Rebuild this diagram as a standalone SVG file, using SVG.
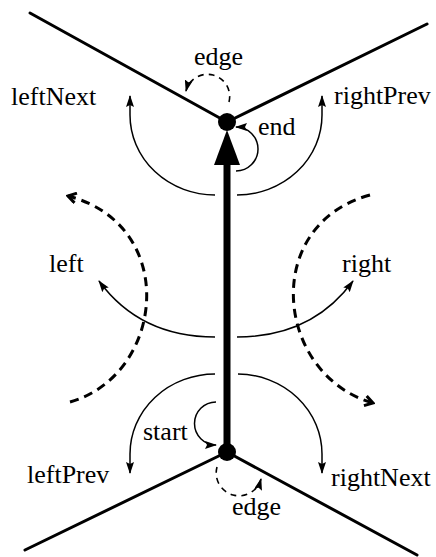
<svg xmlns="http://www.w3.org/2000/svg" width="436" height="557" viewBox="0 0 436 557">
<style>
.edge{stroke:#000;stroke-width:3;fill:none;stroke-linecap:round}
.thin{stroke:#000;stroke-width:1.5;fill:none}
.dash{stroke:#000;stroke-width:3;fill:none;stroke-dasharray:9 6}
.sdash{stroke:#000;stroke-width:1.6;fill:none;stroke-dasharray:6 5}
text{font-family:"Liberation Serif","Times New Roman",serif;font-size:26px;fill:#000}
</style>
<defs>
<marker id="ah" markerUnits="userSpaceOnUse" markerWidth="12" markerHeight="8" refX="11" refY="4" orient="auto"><path d="M0,0 L12,4 L0,8 L2,4 z" fill="#000"/></marker>
<marker id="ahd" markerUnits="userSpaceOnUse" markerWidth="12" markerHeight="12" refX="10" refY="6" orient="auto"><path d="M2,1 L10,6 L2,11" fill="none" stroke="#000" stroke-width="3"/></marker>
</defs>
<g id="connectors">
<line class="edge" x1="30" y1="13" x2="227" y2="122"/>
<line class="edge" x1="427" y1="24" x2="227" y2="122"/>
<line class="edge" x1="25" y1="550" x2="227" y2="452"/>
<line class="edge" x1="417" y1="555" x2="227" y2="452"/>
<line x1="227" y1="452" x2="227" y2="160" stroke="#000" stroke-width="7"/>
<polygon points="227,130 214,165 240,165" fill="#000"/>
<path class="thin" d="M215,195 A85,80 0 0 1 130,115 L130,96" marker-end="url(#ah)"/>
<path class="thin" d="M237,195 A85,80 0 0 0 322,115 L322,96" marker-end="url(#ah)"/>
<path class="thin" d="M215,374 A85,80 0 0 0 130,454 L130,473" marker-end="url(#ah)"/>
<path class="thin" d="M238,374 A85,80 0 0 1 322,454 L322,473" marker-end="url(#ah)"/>
<path class="thin" d="M215,337 Q140,337 99,281" marker-end="url(#ah)"/>
<path class="thin" d="M237,337 Q312,337 353,281" marker-end="url(#ah)"/>
<path class="thin" d="M236,171 A22,22 0 0 0 236,127" marker-end="url(#ah)"/>
<path class="thin" d="M216,402 A21,21 0 0 0 216,445" marker-end="url(#ah)"/>
<path class="sdash" d="M229,102 A21,21 0 0 0 186,91" marker-end="url(#ah)"/>
<path class="sdash" d="M217,467 A22,22 0 0 0 261,479" marker-end="url(#ah)"/>
<path class="dash" d="M70,402 C165,375 180,225 68,196" marker-end="url(#ahd)"/>
<path class="dash" d="M370,195 C260,225 275,375 373,403" marker-end="url(#ahd)"/>
</g>
<g id="end-node"><circle cx="227" cy="122" r="9" fill="#000"/></g>
<g id="start-node"><circle cx="227" cy="452" r="9" fill="#000"/></g>
<g id="labels">
<text x="194" y="65">edge</text>
<text x="11" y="105">leftNext</text>
<text x="334" y="104">rightPrev</text>
<text x="258" y="135">end</text>
<text x="49" y="272">left</text>
<text x="342" y="272">right</text>
<text x="143" y="440">start</text>
<text x="27" y="483">leftPrev</text>
<text x="331" y="486">rightNext</text>
<text x="232" y="515">edge</text>
</g>
</svg>
